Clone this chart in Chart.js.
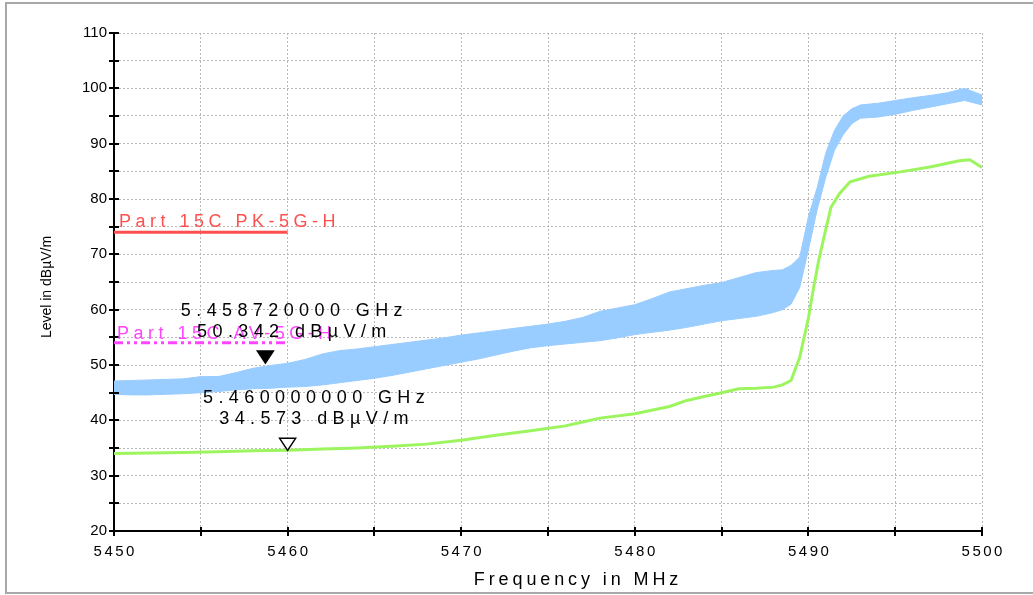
<!DOCTYPE html>
<html>
<head>
<meta charset="utf-8">
<script src="https://cdn.jsdelivr.net/npm/chart.js@4.4.1/dist/chart.umd.min.js"></script>
<style>
  body { margin: 0; background: #fff; }
</style>
</head>
<body>
<canvas id="emiChart" width="1033" height="595"></canvas>
<script>
// Peak trace (blue band), read as upper / lower envelope
const blueFreqs = [5450, 5451, 5452, 5453, 5454, 5455, 5456, 5457, 5458, 5459, 5460,
    5461, 5462, 5463, 5464, 5465, 5466, 5467, 5468, 5469, 5470, 5471, 5472, 5473, 5474,
    5475, 5476, 5477, 5478, 5479, 5480, 5481, 5482, 5483, 5484, 5485, 5486, 5487, 5488,
    5488.5, 5489, 5489.5, 5490, 5490.5, 5491, 5491.5, 5492, 5492.5, 5493, 5494, 5495,
    5496, 5497, 5498, 5499, 5500];
const blueUpper = [47.1, 47.2, 47.3, 47.4, 47.5, 47.9, 47.9, 48.6, 49.4, 49.9, 50.3,
    51.0, 52.0, 52.6, 52.9, 53.3, 53.7, 54.1, 54.5, 54.9, 55.4, 55.8, 56.2, 56.6, 57.0,
    57.4, 57.9, 58.6, 59.7, 60.3, 60.9, 62.0, 63.2, 63.8, 64.4, 64.9, 65.8, 66.7, 67.1,
    67.2, 68.0, 69.5, 76.8, 82.0, 88.3, 92.4, 95.0, 96.3, 97.0, 97.3, 97.8,
    98.3, 98.7, 99.2, 100.0, 98.8];
const blueLower = [44.7, 44.6, 44.6, 44.7, 44.8, 45.0, 45.2, 45.5, 45.7, 45.8, 46.0,
    46.1, 46.4, 46.8, 47.2, 47.6, 48.1, 48.7, 49.3, 49.9, 50.5, 51.1, 51.8, 52.5, 53.1,
    53.5, 53.8, 54.1, 54.4, 54.9, 55.5, 55.9, 56.3, 56.8, 57.4, 58.0, 58.4, 58.8, 59.5,
    60.0, 61.0, 64.0, 70.8, 78.0, 83.9, 88.8, 91.6, 93.6, 94.6, 94.8, 95.3,
    96.0, 96.6, 97.2, 97.8, 97.0];

// Average trace (green)
const greenFreqs = [5450, 5452, 5454, 5456, 5458, 5460, 5462, 5464, 5466, 5468, 5470,
    5472, 5474, 5476, 5477, 5478, 5480, 5482, 5483, 5484, 5485, 5486, 5487, 5488, 5488.5,
    5489, 5489.5, 5490, 5490.3, 5490.6, 5491, 5491.3, 5491.8, 5492.4, 5493.5, 5495.3,
    5497, 5498.7, 5499.3, 5500];
const greenLevels = [34.0, 34.1, 34.2, 34.3, 34.5, 34.6, 34.8, 35.0, 35.3, 35.7, 36.4,
    37.3, 38.1, 39.0, 39.7, 40.4, 41.2, 42.5, 43.6, 44.3, 45.0, 45.7, 45.8, 46.0, 46.4,
    47.2, 51.4, 58.5, 64.0, 69.0, 74.5, 78.5, 81.0, 83.1, 84.1, 84.9,
    85.8, 86.9, 87.1, 85.7];

// Limit lines
const limitFreqs = [5450, 5460];
const pkLimit = 74;
const avLimit = 54;
const limitNames = ['Part 15C PK-5G-H', 'Part 15C AV-5G-H'];

// Markers
const markerFreqs = [5458.72, 5460];
const markerLevels = [50.342, 34.573];
const markerLabels = [
    ['5.458720000 GHz', '50.342 dBµV/m'],
    ['5.460000000 GHz', '34.573 dBµV/m']
];

const FONT = "Arial, 'Liberation Sans', sans-serif";
const toXY = (xs, ys) => xs.map((x, i) => ({ x: x, y: ys[i] }));

const decor = {
    id: 'decor',
    afterDraw(chart) {
        const ctx = chart.ctx;
        const xs = chart.scales.x, ys = chart.scales.y;
        const area = chart.chartArea;
        ctx.save();

        // outer frame
        ctx.strokeStyle = '#a8a8a8';
        ctx.lineWidth = 2;
        ctx.strokeRect(6, 3, 1100, 590);

        // ticks crossing the axes
        ctx.strokeStyle = '#000';
        ctx.lineWidth = 2;
        xs.ticks.forEach(t => {
            const px = Math.round(xs.getPixelForValue(t.value));
            ctx.beginPath();
            ctx.moveTo(px, area.bottom - 4);
            ctx.lineTo(px, area.bottom + 5);
            ctx.stroke();
        });
        ys.ticks.forEach(t => {
            const py = Math.round(ys.getPixelForValue(t.value));
            ctx.beginPath();
            ctx.moveTo(area.left - 5, py);
            ctx.lineTo(area.left + 5, py);
            ctx.stroke();
        });

        // x tick labels (spaced)
        ctx.fillStyle = '#000';
        ctx.font = '15px ' + FONT;
        ctx.letterSpacing = '2.5px';
        ctx.textAlign = 'center';
        ctx.textBaseline = 'middle';
        xs.ticks.forEach(t => {
            if (t.value % 10 !== 0) return;
            const px = xs.getPixelForValue(t.value);
            ctx.fillText(String(t.value), px + 1.25, area.bottom + 21);
        });

        // axis titles
        ctx.font = '18px ' + FONT;
        ctx.letterSpacing = '3.9px';
        ctx.fillText('Frequency in MHz', (area.left + area.right) / 2 + 30, 580);
        ctx.letterSpacing = '0px';
        ctx.font = '14px ' + FONT;
        ctx.save();
        ctx.translate(47, (area.top + area.bottom) / 2 + 5);
        ctx.rotate(-Math.PI / 2);
        ctx.fillText('Level in dBµV/m', 0, 0);
        ctx.restore();

        // limit line labels
        ctx.font = '18px ' + FONT;
        ctx.letterSpacing = '4.5px';
        ctx.textAlign = 'left';
        ctx.textBaseline = 'alphabetic';
        ctx.fillStyle = '#ff4f4f';
        ctx.fillText(limitNames[0], xs.getPixelForValue(limitFreqs[0]) + 5, ys.getPixelForValue(pkLimit) - 5);
        ctx.fillStyle = '#ff44ff';
        ctx.fillText(limitNames[1], xs.getPixelForValue(limitFreqs[0]) + 3, ys.getPixelForValue(avLimit) - 4);

        // markers
        markerFreqs.forEach((f, i) => {
            const px = xs.getPixelForValue(f);
            const py = ys.getPixelForValue(markerLevels[i]);
            ctx.beginPath();
            ctx.moveTo(px, py);
            ctx.lineTo(px - 8, py - 12);
            ctx.lineTo(px + 8, py - 12);
            ctx.closePath();
            ctx.lineWidth = 1.5;
            ctx.strokeStyle = '#000';
            ctx.fillStyle = i === 0 ? '#000' : '#fff';
            ctx.fill();
            ctx.stroke();

            ctx.fillStyle = '#000';
            ctx.font = '18px ' + FONT;
            ctx.letterSpacing = '5.4px';
            ctx.textAlign = 'center';
            ctx.textBaseline = 'middle';
            ctx.fillText(markerLabels[i][0], px + 29, py - 52);
            ctx.fillText(markerLabels[i][1], px + 29, py - 31);
        });
        ctx.restore();
    }
};

const ctx = document.getElementById('emiChart').getContext('2d');
const emiChart = new Chart(ctx, {
    type: 'line',
    data: {
        datasets: [
            {
                label: 'Peak low',
                data: toXY(blueFreqs, blueLower),
                borderColor: '#99ccff',
                borderWidth: 1,
                pointRadius: 0,
                fill: false
            },
            {
                label: 'Peak',
                data: toXY(blueFreqs, blueUpper),
                borderColor: '#99ccff',
                backgroundColor: '#99ccff',
                borderWidth: 1,
                pointRadius: 0,
                fill: '-1'
            },
            {
                label: 'Average',
                data: toXY(greenFreqs, greenLevels),
                borderColor: '#9cf55e',
                borderWidth: 3,
                pointRadius: 0,
                fill: false
            },
            {
                label: limitNames[0],
                data: limitFreqs.map(f => ({ x: f, y: pkLimit })),
                borderColor: '#ff4f4f',
                borderWidth: 3,
                pointRadius: 0,
                fill: false
            },
            {
                label: limitNames[1],
                data: limitFreqs.map(f => ({ x: f, y: avLimit })),
                borderColor: '#ff44ff',
                borderWidth: 3,
                borderDash: [9, 4, 3, 4, 3, 4],
                pointRadius: 0,
                fill: false
            }
        ]
    },
    options: {
        responsive: false,
        animation: false,
        layout: { padding: { left: 0, top: 33, right: 51, bottom: 0 } },
        plugins: {
            legend: { display: false },
            tooltip: { enabled: false }
        },
        scales: {
            x: {
                type: 'linear',
                min: 5450,
                max: 5500,
                ticks: { stepSize: 5, display: false },
                grid: { color: '#b8b8b8', lineWidth: 1, drawTicks: false },
                border: { color: '#000', width: 2, dash: [2, 2] },
                afterFit(scale) { scale.height = 64; }
            },
            y: {
                min: 20,
                max: 110,
                ticks: {
                    stepSize: 5,
                    padding: 7,
                    color: '#000',
                    font: { family: FONT, size: 15 },
                    callback: v => (v % 10 === 0 ? v : '')
                },
                grid: { color: '#b8b8b8', lineWidth: 1, drawTicks: false },
                border: { color: '#000', width: 2, dash: [2, 2] },
                afterFit(scale) { scale.width = 114; }
            }
        }
    },
    plugins: [decor]
});
</script>
</body>
</html>
